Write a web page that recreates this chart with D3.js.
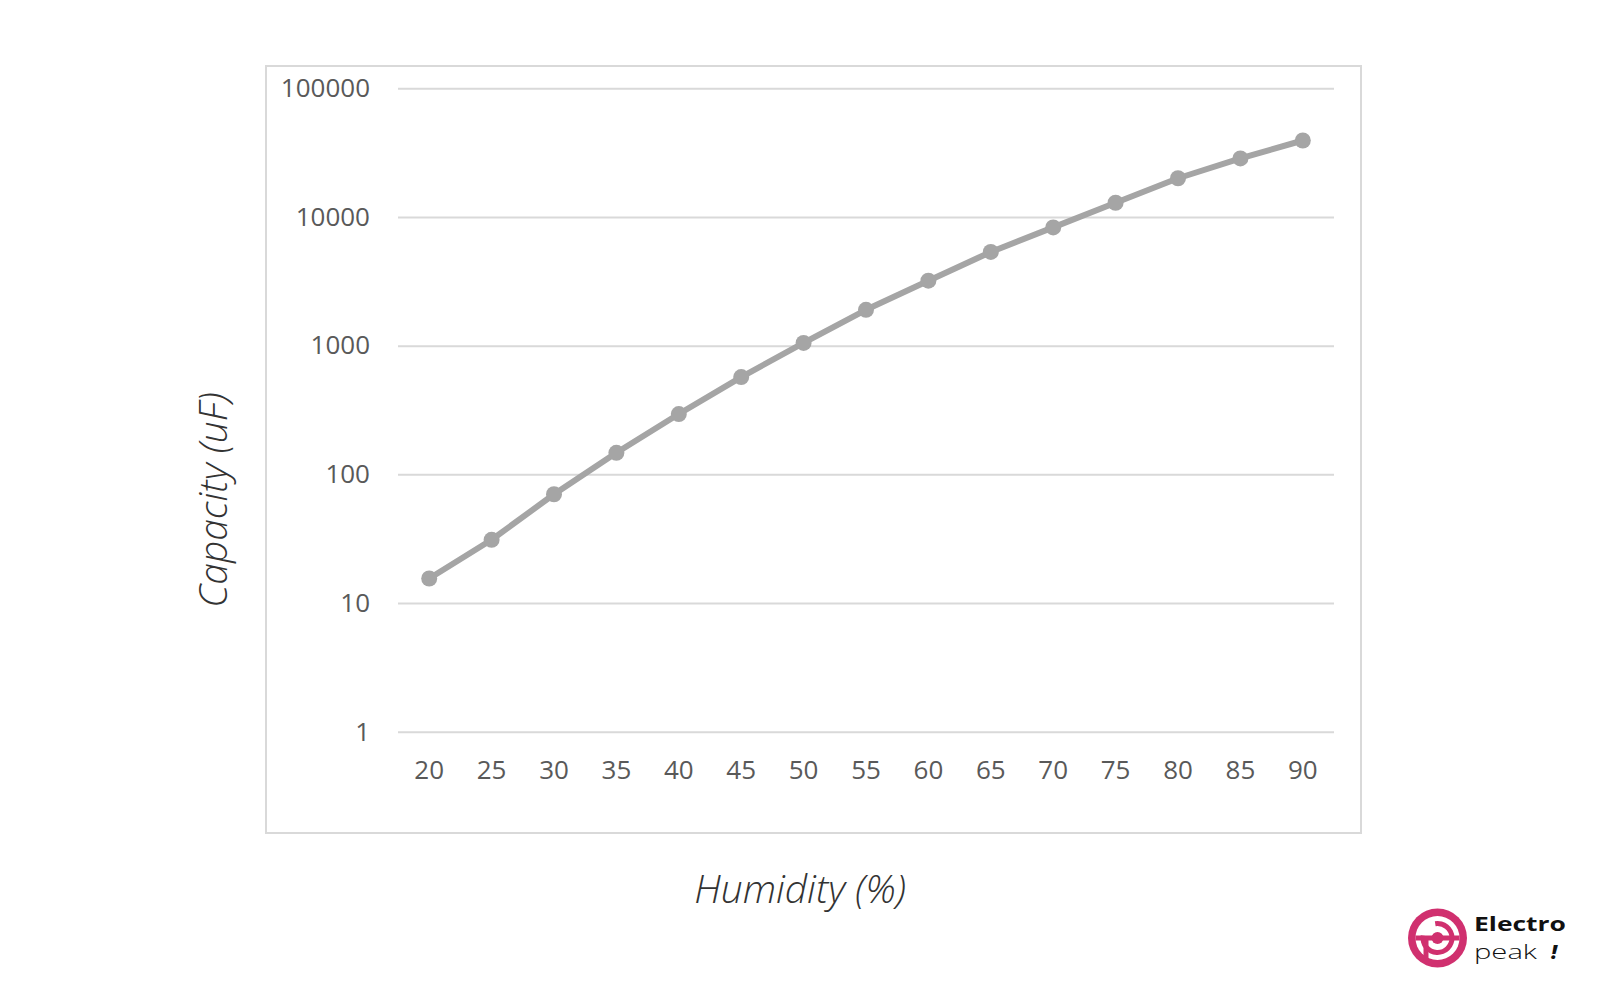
<!DOCTYPE html>
<html>
<head>
<meta charset="utf-8">
<script src="https://cdn.jsdelivr.net/npm/d3@7"></script>
<style>
  html, body { margin: 0; padding: 0; background: #ffffff; }
  svg { display: block; }
</style>
</head>
<body>
<svg id="chart" width="1600" height="1000"></svg>
<script>
// ---- data ----
const humidity = ["20","25","30","35","40","45","50","55","60","65","70","75","80","85","90"];
const capacity = [15.5, 31, 70, 147, 294, 570, 1050, 1900, 3200, 5350, 8300, 12900, 20000, 28500, 39300];
const yTickValues = [1, 10, 100, 1000, 10000, 100000];
const xTitle = "Humidity (%)";
const yTitle = "Capacity (uF)";

const svg = d3.select("#chart");
svg.append("rect").attr("width", 1600).attr("height", 1000).attr("fill", "#ffffff");

// chart frame
svg.append("rect")
  .attr("x", 266).attr("y", 66).attr("width", 1095).attr("height", 767)
  .attr("fill", "none").attr("stroke", "#d9d9d9").attr("stroke-width", 2);

const plotLeft = 398, plotRight = 1334, plotTop = 88.3, plotBottom = 731.7;

const x = d3.scaleBand().domain(humidity).range([plotLeft, plotRight]);
const y = d3.scaleLog().domain([1, 100000]).range([plotBottom, plotTop]);

// y axis with gridlines
const yAxis = svg.append("g")
  .attr("transform", `translate(${plotLeft},0)`)
  .call(d3.axisLeft(y).tickValues(yTickValues).tickFormat(d3.format("d"))
        .tickSizeInner(-(plotRight - plotLeft)).tickSizeOuter(0).tickPadding(28));
yAxis.select(".domain").remove();
yAxis.selectAll(".tick line").attr("stroke", "#d9d9d9").attr("stroke-width", 2);
yAxis.selectAll(".tick text")
  .attr("fill", "#595959").style("font-family", "'Open Sans', sans-serif").style("font-size", "26px");

// x axis
const xAxis = svg.append("g")
  .attr("transform", `translate(0,${plotBottom})`)
  .call(d3.axisBottom(x).tickSize(0).tickPadding(29));
xAxis.select(".domain").remove();
xAxis.selectAll(".tick text")
  .attr("fill", "#595959").style("font-family", "'Open Sans', sans-serif").style("font-size", "26px");

// line
const cx = d => x(d) + x.bandwidth() / 2;
const line = d3.line().x((d, i) => cx(humidity[i])).y(d => y(d));
svg.append("path")
  .datum(capacity)
  .attr("d", line)
  .attr("fill", "none").attr("stroke", "#a5a5a5").attr("stroke-width", 6)
  .attr("stroke-linejoin", "round").attr("stroke-linecap", "round");

svg.append("g").selectAll("circle")
  .data(capacity)
  .join("circle")
  .attr("cx", (d, i) => cx(humidity[i]))
  .attr("cy", d => y(d))
  .attr("r", 8)
  .attr("fill", "#a5a5a5");

// axis titles
svg.append("text")
  .attr("x", 800).attr("y", 903)
  .attr("text-anchor", "middle")
  .attr("fill", "#333333")
  .style("font-family", "'Open Sans', sans-serif").style("font-size", "39px")
  .style("font-style", "italic").style("font-weight", 300)
  .text(xTitle);

svg.append("text")
  .attr("transform", "translate(227,500) rotate(-90)")
  .attr("text-anchor", "middle")
  .attr("fill", "#333333")
  .style("font-family", "'Open Sans', sans-serif").style("font-size", "39px")
  .style("font-style", "italic").style("font-weight", 300)
  .text(yTitle);

// logo
const logo = svg.append("g").attr("transform", "translate(1437.5,938)");
const mag = "#d0306f";
logo.append("circle").attr("r", 29.5).attr("fill", mag);
logo.append("circle").attr("r", 22).attr("fill", "#ffffff");
logo.append("path")
  .attr("d", d3.arc().innerRadius(12).outerRadius(17).startAngle(-Math.PI * 0.05).endAngle(Math.PI * 1.55)())
  .attr("fill", mag);
logo.append("rect").attr("x", -22).attr("y", -2.5).attr("width", 44).attr("height", 5).attr("fill", mag);
logo.append("rect").attr("x", -14).attr("y", -2).attr("width", 5).attr("height", 24).attr("fill", mag);
logo.append("circle").attr("r", 6).attr("fill", mag);

svg.append("text")
  .attr("x", 1474).attr("y", 931)
  .attr("fill", "#111111")
  .style("font-family", "'Open Sans', sans-serif").style("font-size", "20px").style("font-weight", 700)
  .attr("textLength", 92).attr("lengthAdjust", "spacingAndGlyphs")
  .text("Electro");
svg.append("text")
  .attr("x", 1474).attr("y", 959)
  .attr("fill", "#111111")
  .style("font-family", "'Open Sans', sans-serif").style("font-size", "20px").style("font-weight", 300)
  .attr("textLength", 63).attr("lengthAdjust", "spacingAndGlyphs")
  .text("peak");
svg.append("text")
  .attr("x", 1551).attr("y", 959)
  .attr("fill", "#111111")
  .style("font-family", "'Open Sans', sans-serif").style("font-size", "20px").style("font-weight", 800)
  .style("font-style", "italic")
  .text("!");
</script>
</body>
</html>
